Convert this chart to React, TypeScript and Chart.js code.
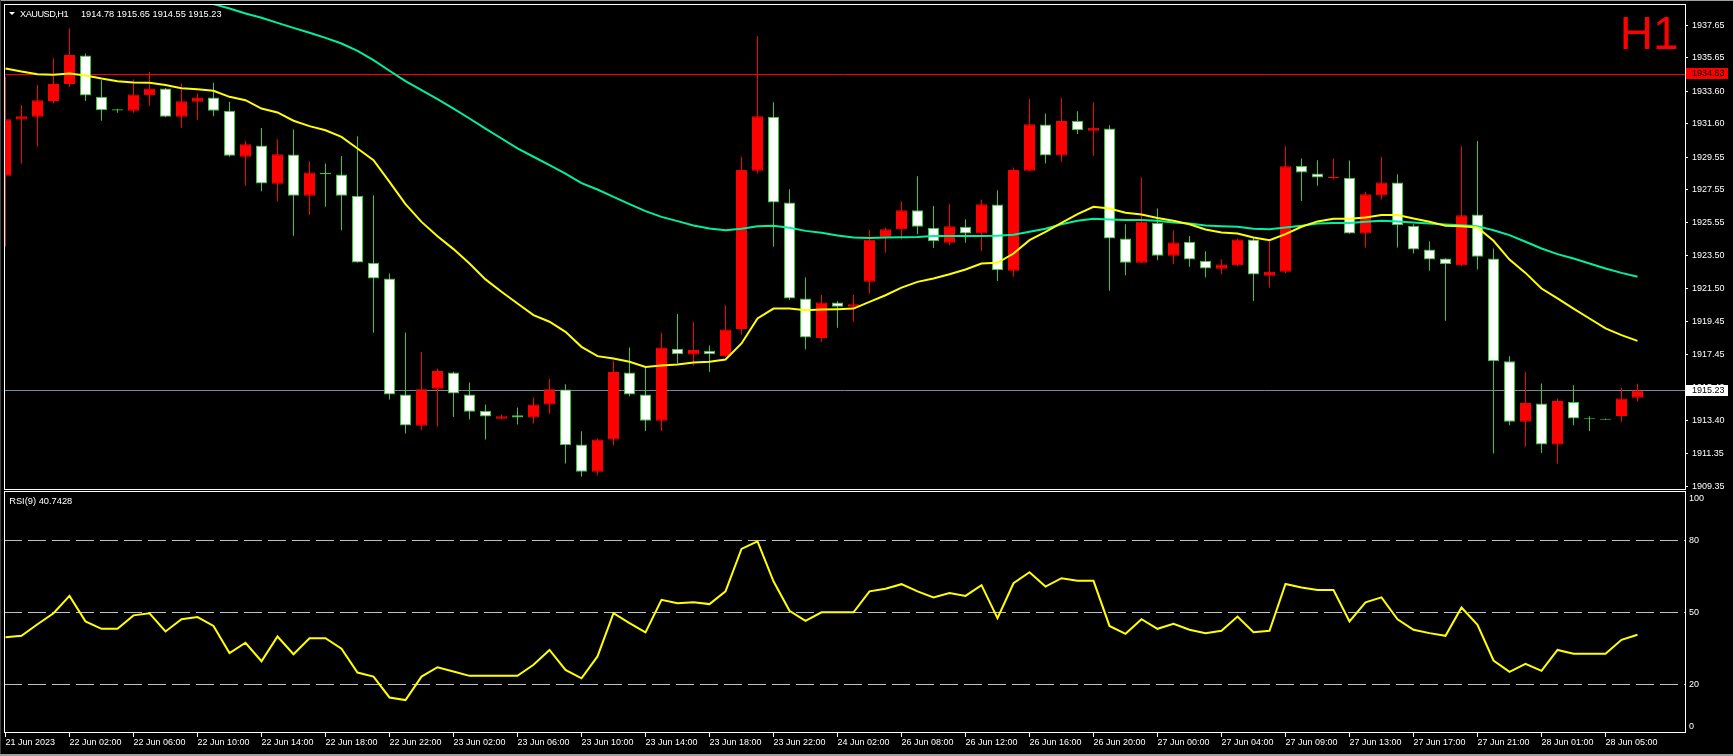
import React, { useEffect, useRef } from "react";
import { Chart, registerables } from "chart.js";

Chart.register(...registerables);

const FONT = '"Liberation Sans", Arial, sans-serif';
const SYMBOL = "XAUUSD,H1";
const LAST_OHLC = "1914.78 1915.65 1914.55 1915.23";
const RSI_TITLE = "RSI(9) 40.7428";
const TIMEFRAME = "H1";

const TICK_LABELS = [
  "21 Jun 2023", "22 Jun 02:00", "22 Jun 06:00", "22 Jun 10:00", "22 Jun 14:00", "22 Jun 18:00",
  "22 Jun 22:00", "23 Jun 02:00", "23 Jun 06:00", "23 Jun 10:00", "23 Jun 14:00", "23 Jun 18:00",
  "23 Jun 22:00", "24 Jun 02:00", "26 Jun 08:00", "26 Jun 12:00", "26 Jun 16:00", "26 Jun 20:00",
  "27 Jun 00:00", "27 Jun 04:00", "27 Jun 09:00", "27 Jun 13:00", "27 Jun 17:00", "27 Jun 21:00",
  "28 Jun 01:00", "28 Jun 05:00",
];
const TICK_STEP = 4;

const PRICE_TICKS = [
  1937.65, 1935.65, 1933.6, 1931.6, 1929.55, 1927.55, 1925.55, 1923.5, 1921.5, 1919.45, 1917.45,
  1915.4, 1913.4, 1911.35, 1909.35,
];
const RSI_TICK_VALUES = [97.5, 80, 50, 20, 2.3];
const RSI_TICK_LABELS = ["100", "80", "50", "20", "0"];
const RSI_LEVELS = [80, 50, 20];
const ASK_LINE = 1934.63;
const BID_LINE = 1915.23;

const OPEN = [
  1928.41, 1931.87, 1932.03, 1933.01, 1934.04, 1935.8, 1933.26, 1932.5, 1932.4, 1933.36,
  1933.77, 1932.03, 1932.95, 1933.22, 1932.4, 1929.58, 1930.27, 1927.92, 1929.72, 1927.18,
  1928.59, 1928.49, 1927.18, 1923.07, 1922.11, 1914.99, 1913.06, 1915.33, 1916.34, 1914.99,
  1913.98, 1913.49, 1913.71, 1913.57, 1914.37, 1915.29, 1911.91, 1910.24, 1912.22, 1916.34,
  1914.99, 1913.37, 1917.79, 1917.44, 1917.67, 1917.34, 1919.0, 1928.72, 1932.03, 1926.77,
  1920.88, 1918.46, 1920.63, 1920.37, 1921.9, 1924.62, 1925.13, 1926.3, 1925.22, 1924.3,
  1925.28, 1924.87, 1926.65, 1922.58, 1928.72, 1931.56, 1929.66, 1931.77, 1931.17, 1931.32,
  1924.56, 1923.07, 1925.52, 1923.5, 1924.36, 1923.19, 1922.7, 1922.92, 1924.5, 1922.27,
  1922.52, 1929.02, 1928.55, 1928.27, 1928.29, 1924.87, 1927.22, 1928.0, 1925.34, 1923.89,
  1923.33, 1922.92, 1926.04, 1923.33, 1917.03, 1913.31, 1914.43, 1911.91, 1914.53, 1913.53,
  1913.49, 1913.67, 1914.78,
];
const HIGH = [
  1934.49, 1932.75, 1933.98, 1935.61, 1937.45, 1935.92, 1934.28, 1932.52, 1934.32, 1934.79,
  1933.8, 1934.08, 1933.46, 1934.12, 1932.95, 1930.54, 1931.34, 1930.66, 1931.25, 1929.31,
  1929.17, 1929.62, 1930.84, 1927.22, 1922.41, 1918.79, 1917.6, 1916.58, 1916.38, 1915.72,
  1914.37, 1913.75, 1914.19, 1914.8, 1915.93, 1915.62, 1912.73, 1912.28, 1917.05, 1917.87,
  1916.68, 1918.77, 1919.92, 1919.43, 1917.99, 1920.47, 1929.58, 1936.98, 1932.93, 1927.59,
  1922.17, 1921.09, 1920.71, 1921.09, 1925.07, 1925.24, 1926.85, 1928.39, 1926.55, 1926.67,
  1925.75, 1926.96, 1927.53, 1928.92, 1933.12, 1932.24, 1933.18, 1932.38, 1932.93, 1931.52,
  1925.44, 1928.31, 1926.4, 1925.07, 1924.71, 1923.78, 1923.29, 1924.56, 1924.62, 1924.5,
  1930.23, 1929.47, 1929.37, 1929.47, 1929.35, 1927.43, 1929.56, 1928.51, 1925.44, 1924.4,
  1923.35, 1930.23, 1930.54, 1923.95, 1917.34, 1916.38, 1915.66, 1914.74, 1915.56, 1913.65,
  1913.5, 1915.41, 1915.65,
];
const LOW = [
  1924.05, 1929.17, 1930.19, 1932.85, 1933.87, 1933.01, 1931.79, 1932.28, 1932.28, 1932.69,
  1932.0, 1931.36, 1931.83, 1932.07, 1929.58, 1927.8, 1927.47, 1926.85, 1924.73, 1926.0,
  1926.51, 1925.07, 1923.09, 1918.77, 1914.68, 1912.59, 1912.79, 1913.0, 1913.61, 1913.45,
  1912.22, 1913.45, 1913.14, 1913.2, 1913.81, 1910.75, 1909.93, 1910.03, 1911.87, 1914.88,
  1912.75, 1912.75, 1916.89, 1916.75, 1916.38, 1917.3, 1918.67, 1928.55, 1924.05, 1920.78,
  1917.75, 1918.22, 1919.08, 1919.45, 1921.19, 1923.68, 1924.52, 1924.83, 1923.98, 1924.15,
  1924.3, 1923.8, 1921.96, 1922.21, 1928.7, 1929.17, 1929.27, 1930.97, 1929.64, 1921.35,
  1922.31, 1923.05, 1923.23, 1922.99, 1922.82, 1922.17, 1922.37, 1922.88, 1920.73, 1921.55,
  1922.45, 1926.87, 1927.8, 1928.18, 1924.85, 1924.01, 1926.96, 1924.01, 1923.64, 1922.58,
  1919.51, 1922.88, 1922.66, 1911.36, 1913.1, 1911.77, 1911.4, 1910.75, 1913.1, 1912.75,
  1913.42, 1913.31, 1914.55,
];
const CLOSE = [
  1931.89, 1932.07, 1933.05, 1934.04, 1935.82, 1933.34, 1932.44, 1932.42, 1933.4, 1933.77,
  1932.03, 1932.99, 1933.22, 1932.4, 1929.64, 1930.35, 1927.94, 1929.74, 1927.18, 1928.61,
  1928.51, 1927.18, 1923.09, 1922.11, 1914.99, 1913.08, 1915.31, 1916.42, 1915.05, 1913.92,
  1913.63, 1913.65, 1913.57, 1914.37, 1915.31, 1911.87, 1910.24, 1912.22, 1916.36, 1914.99,
  1913.37, 1917.87, 1917.46, 1917.71, 1917.46, 1918.98, 1928.76, 1932.07, 1926.77, 1920.88,
  1918.48, 1920.63, 1920.37, 1920.53, 1924.5, 1925.13, 1926.3, 1925.28, 1924.4, 1925.32,
  1924.87, 1926.67, 1922.62, 1928.76, 1931.58, 1929.66, 1931.77, 1931.21, 1931.36, 1924.56,
  1923.07, 1925.59, 1923.5, 1924.32, 1923.27, 1922.72, 1922.97, 1924.5, 1922.35, 1922.52,
  1929.0, 1928.61, 1928.31, 1928.35, 1924.87, 1927.28, 1928.0, 1925.38, 1923.89, 1923.27,
  1922.99, 1925.99, 1923.44, 1917.03, 1913.31, 1914.47, 1911.91, 1914.58, 1913.51, 1913.47,
  1913.43, 1914.74, 1915.23,
];
const MA_FAST = [
  1935.0, 1934.81, 1934.65, 1934.61, 1934.69, 1934.57, 1934.38, 1934.22, 1934.14, 1934.12,
  1933.98, 1933.79, 1933.73, 1933.63, 1933.26, 1933.05, 1932.54, 1932.3, 1931.79, 1931.46,
  1931.21, 1930.8, 1930.09, 1929.37, 1928.04, 1926.67, 1925.58, 1924.7, 1923.91, 1923.03,
  1922.05, 1921.29, 1920.57, 1919.86, 1919.45, 1918.83, 1917.91, 1917.34, 1917.19, 1916.99,
  1916.68, 1916.77, 1916.83, 1916.95, 1916.99, 1917.13, 1918.12, 1919.65, 1920.26, 1920.26,
  1920.16, 1920.2, 1920.22, 1920.26, 1920.67, 1921.08, 1921.55, 1921.9, 1922.11, 1922.37,
  1922.66, 1923.03, 1923.07, 1923.64, 1924.46, 1924.97, 1925.52, 1926.06, 1926.51, 1926.4,
  1926.14, 1926.04, 1925.82, 1925.65, 1925.44, 1925.11, 1924.93, 1924.87, 1924.62, 1924.46,
  1924.83, 1925.28, 1925.61, 1925.77, 1925.77, 1925.85, 1926.0, 1926.0, 1925.79, 1925.59,
  1925.34, 1925.32, 1925.24, 1924.42, 1923.27, 1922.45, 1921.49, 1920.88, 1920.26, 1919.65,
  1919.04, 1918.63, 1918.28,
];
const MA_SLOW = [
  null, null, null, null, null, null, null, null, null, null,
  null, 1939.55, 1939.25, 1938.95, 1938.68, 1938.37, 1938.11, 1937.8, 1937.49, 1937.19,
  1936.88, 1936.53, 1936.08, 1935.51, 1934.86, 1934.22, 1933.67, 1933.12, 1932.54, 1931.93,
  1931.31, 1930.7, 1930.09, 1929.58, 1929.06, 1928.55, 1927.96, 1927.57, 1927.12, 1926.67,
  1926.24, 1925.89, 1925.63, 1925.36, 1925.18, 1925.07, 1925.16, 1925.32, 1925.34, 1925.22,
  1925.03, 1924.91, 1924.75, 1924.62, 1924.6, 1924.62, 1924.64, 1924.66, 1924.71, 1924.71,
  1924.71, 1924.71, 1924.73, 1924.79, 1924.97, 1925.16, 1925.44, 1925.65, 1925.77, 1925.73,
  1925.69, 1925.69, 1925.65, 1925.54, 1925.48, 1925.36, 1925.32, 1925.28, 1925.16, 1925.13,
  1925.24, 1925.34, 1925.48, 1925.52, 1925.52, 1925.59, 1925.65, 1925.61, 1925.54, 1925.48,
  1925.42, 1925.38, 1925.32, 1925.07, 1924.77, 1924.36, 1923.95, 1923.6, 1923.33, 1923.03,
  1922.72, 1922.45, 1922.21,
];
const RSI = [
  39.7, 40.3, 45.1, 49.7, 56.9, 46.3, 43.2, 43.2, 48.8, 49.7,
  42.1, 47.2, 48.1, 44.4, 33.1, 37.4, 29.7, 40.0, 32.6, 39.3,
  39.3, 34.9, 25.0, 23.3, 14.6, 13.5, 23.3, 27.2, 25.4, 23.6,
  23.6, 23.6, 23.6, 28.2, 34.4, 26.1, 22.6, 31.7, 49.7, 45.6,
  41.7, 55.3, 53.9, 54.3, 53.5, 58.8, 76.5, 79.6, 63.0, 50.7,
  46.5, 50.1, 50.1, 50.1, 58.8, 59.9, 61.8, 58.8, 56.3, 58.1,
  56.9, 61.4, 47.6, 62.2, 66.8, 60.8, 64.3, 63.2, 63.2, 44.4,
  41.1, 47.2, 43.2, 45.3, 42.8, 41.4, 42.4, 48.3, 41.8, 42.4,
  61.9, 60.4, 59.4, 59.4, 46.3, 54.2, 56.3, 47.2, 42.8, 41.4,
  40.3, 52.1, 44.9, 30.0, 25.3, 28.6, 25.7, 34.4, 32.8, 32.8,
  32.8, 38.6, 40.74,
];

const BULL = "#ff0000";
const BEAR_FILL = "#ffffff";
const BEAR_LINE = "#32cd32";
const MA_FAST_COLOR = "#ffff00";
const MA_SLOW_COLOR = "#00f0a0";

// visible window (bar index units / price units)
const X_MIN = -0.09375;
const X_MAX = 104.96875;
const P_MIN = 1909.091;
const P_MAX = 1938.958;
const R_MIN = -0.208;
const R_MAX = 100.833;

const framePlugin = {
  id: "mt4frame",
  afterDraw(chart: any) {
    const { ctx, chartArea } = chart;
    const ys = chart.scales.y;
    const rs = chart.scales.rsi;
    ctx.save();
    ctx.strokeStyle = "#ffffff";
    ctx.lineWidth = 1;
    const l = chartArea.left + 0.5;
    const r = chartArea.right + 0.5;
    ctx.strokeRect(l, chartArea.top + 0.5, r - l, ys.bottom - 1 - (chartArea.top + 0.5));
    ctx.strokeRect(l, rs.top + 1, r - l, rs.bottom - 0.5 - (rs.top + 1));
    const box = (value: number, bg: string, dy: number) => {
      const py = ys.getPixelForValue(value);
      const top = Math.floor(py) - dy;
      ctx.fillStyle = bg;
      ctx.fillRect(chartArea.right + 1, top, 42, 11);
      ctx.fillStyle = "#000000";
      ctx.font = "9px " + FONT;
      ctx.textBaseline = "middle";
      ctx.textAlign = "left";
      ctx.fillText(value.toFixed(2), chartArea.right + 7, top + 5.5);
    };
    box(ASK_LINE, BULL, 6);
    box(BID_LINE, "#ffffff", 5);
    ctx.restore();
  },
};

export default function App() {
  const ref = useRef<HTMLCanvasElement>(null);

  useEffect(() => {
    document.body.style.margin = "0";
    document.body.style.background = "#000";
    document.body.style.overflow = "hidden";
    const canvas = ref.current;
    if (!canvas) return;
    const idx = OPEN.map((_, i) => i);
    const up = idx.map((i) => CLOSE[i] > OPEN[i]);

    const tickFont = { family: FONT, size: 9 };

    const chart = new Chart(canvas, {
      type: "bar",
      data: {
        datasets: [
          {
            type: "line",
            data: [{ x: X_MIN, y: ASK_LINE }, { x: X_MAX, y: ASK_LINE }],
            borderColor: "#ff0000",
            borderWidth: 1,
            pointRadius: 0,
            yAxisID: "y",
            clip: 0,
            order: 20,
          },
          {
            type: "line",
            data: [{ x: X_MIN, y: BID_LINE }, { x: X_MAX, y: BID_LINE }],
            borderColor: "#778899",
            borderWidth: 1,
            pointRadius: 0,
            yAxisID: "y",
            clip: 0,
            order: 19,
          },
          ...RSI_LEVELS.map((lv, k) => ({
            type: "line",
            data: [{ x: X_MIN, y: lv }, { x: X_MAX, y: lv }],
            borderColor: "#c0c0c0",
            borderWidth: 1,
            borderDash: [18, 6],
            pointRadius: 0,
            yAxisID: "rsi",
            clip: 0,
            order: 18 - k,
          })),
          {
            type: "bar",
            data: idx.map((i) => ({ x: i, y: [LOW[i], HIGH[i]] })),
            backgroundColor: idx.map((i) => (up[i] ? BULL : BEAR_LINE)),
            borderWidth: 0,
            barThickness: 1,
            maxBarThickness: 1,
            categoryPercentage: 1,
            barPercentage: 1,
            grouped: false,
            inflateAmount: 0,
            yAxisID: "y",
            clip: 0,
            order: 10,
          },
          {
            type: "bar",
            data: idx.map((i) => ({ x: i, y: [Math.min(OPEN[i], CLOSE[i]), Math.max(OPEN[i], CLOSE[i])] })),
            backgroundColor: idx.map((i) => (up[i] ? BULL : BEAR_FILL)),
            borderColor: idx.map((i) => (up[i] ? BULL : BEAR_LINE)),
            borderWidth: 1,
            borderSkipped: false,
            barThickness: 11,
            maxBarThickness: 11,
            categoryPercentage: 1,
            barPercentage: 1,
            grouped: false,
            inflateAmount: 0,
            yAxisID: "y",
            clip: 0,
            order: 9,
          },
          {
            type: "line",
            data: MA_SLOW.map((v, i) => ({ x: i, y: v })),
            borderColor: MA_SLOW_COLOR,
            borderWidth: 2,
            pointRadius: 0,
            tension: 0,
            yAxisID: "y",
            clip: 0,
            order: 3,
          },
          {
            type: "line",
            data: MA_FAST.map((v, i) => ({ x: i, y: v })),
            borderColor: MA_FAST_COLOR,
            borderWidth: 2,
            pointRadius: 0,
            tension: 0,
            yAxisID: "y",
            clip: 0,
            order: 2,
          },
          {
            type: "line",
            data: RSI.map((v, i) => ({ x: i, y: v })),
            borderColor: "#ffff00",
            borderWidth: 2,
            pointRadius: 0,
            tension: 0,
            yAxisID: "rsi",
            clip: 0,
            order: 1,
          },
        ] as any,
      },
      options: {
        responsive: false,
        animation: false,
        devicePixelRatio: 1,
        events: [],
        layout: { padding: { left: 4, top: 4, right: 0, bottom: 0 } },
        plugins: {
          legend: { display: false },
          tooltip: { enabled: false },
          title: { display: false },
        },
        scales: {
          x: {
            type: "linear",
            min: X_MIN,
            max: X_MAX,
            offset: false,
            border: { display: false },
            grid: {
              display: true,
              drawOnChartArea: false,
              drawTicks: true,
              tickLength: 4,
              tickColor: "#ffffff",
              color: "#ffffff",
              offset: false,
            },
            ticks: {
              color: "#ffffff",
              font: tickFont,
              align: "start",
              maxRotation: 0,
              minRotation: 0,
              autoSkip: false,
              padding: 0,
              callback: (_v: any, i: number) => TICK_LABELS[i],
            },
            afterBuildTicks: (s: any) => {
              s.ticks = TICK_LABELS.map((_, k) => ({ value: k * TICK_STEP }));
            },
            afterFit: (s: any) => {
              s.height = 23;
              s.paddingLeft = 0;
              s.paddingRight = 0;
            },
          },
          y: {
            type: "linear",
            position: "right",
            stack: "panes",
            stackWeight: 486.5,
            min: P_MIN,
            max: P_MAX,
            border: { display: false },
            grid: {
              display: true,
              drawOnChartArea: false,
              drawTicks: true,
              tickLength: 3,
              tickColor: "#ffffff",
            },
            ticks: {
              color: "#ffffff",
              font: tickFont,
              padding: 4,
              autoSkip: false,
              callback: (v: any) => Number(v).toFixed(2),
            },
            afterBuildTicks: (s: any) => {
              s.ticks = PRICE_TICKS.map((v) => ({ value: v }));
            },
            afterFit: (s: any) => {
              s.width = 48;
              s.paddingTop = 0;
              s.paddingBottom = 0;
            },
          },
          rsi: {
            type: "linear",
            position: "right",
            stack: "panes",
            stackWeight: 242.5,
            min: R_MIN,
            max: R_MAX,
            border: { display: false },
            grid: { display: true, drawOnChartArea: false, drawTicks: false, tickLength: 0 },
            ticks: {
              color: "#ffffff",
              font: tickFont,
              padding: 4,
              autoSkip: false,
              callback: (_v: any, i: number) => RSI_TICK_LABELS[i],
            },
            afterBuildTicks: (s: any) => {
              s.ticks = RSI_TICK_VALUES.map((v) => ({ value: v }));
            },
            afterFit: (s: any) => {
              s.width = 48;
              s.paddingTop = 0;
              s.paddingBottom = 0;
            },
          },
        } as any,
      },
      plugins: [framePlugin],
    } as any);

    return () => chart.destroy();
  }, []);

  const txt = (extra: React.CSSProperties): React.CSSProperties => ({
    position: "absolute",
    fontFamily: FONT,
    whiteSpace: "pre",
    color: "#ffffff",
    margin: 0,
    padding: 0,
    ...extra,
  });

  return (
    <div
      style={{
        position: "absolute",
        left: 0,
        top: 0,
        width: 1733,
        height: 756,
        background: "#000000",
        overflow: "hidden",
      }}
    >
      <canvas
        ref={ref}
        width={1733}
        height={756}
        style={{ position: "absolute", left: 0, top: 0, width: 1733, height: 756 }}
      />
      <div style={{ position: "absolute", left: 0, top: 0, width: 1733, height: 1, background: "#a0a0a0" }} />
      <div style={{ position: "absolute", left: 0, top: 0, width: 1, height: 756, background: "#404040" }} />
      <div style={{ position: "absolute", left: 0, top: 754, width: 1733, height: 2, background: "#a0a0a0" }} />
      <div
        style={{
          position: "absolute",
          left: 9,
          top: 12,
          width: 0,
          height: 0,
          borderLeft: "3px solid transparent",
          borderRight: "3px solid transparent",
          borderTop: "3px solid #ffffff",
        }}
      />
      <div style={txt({ left: 20, top: 8.5, fontSize: 9.2, lineHeight: "10px", letterSpacing: "-0.5px" })}>{SYMBOL}</div>
      <div style={txt({ left: 81, top: 8.5, fontSize: 9.2, lineHeight: "10px" })}>{LAST_OHLC}</div>
      <div style={txt({ left: 9.2, top: 495.8, fontSize: 9.3, lineHeight: "10px" })}>{RSI_TITLE}</div>
      <div style={txt({ left: 1619.7, top: 10.4, fontSize: 46, lineHeight: "46px", color: "#ff0000" })}>{TIMEFRAME}</div>
    </div>
  );
}
